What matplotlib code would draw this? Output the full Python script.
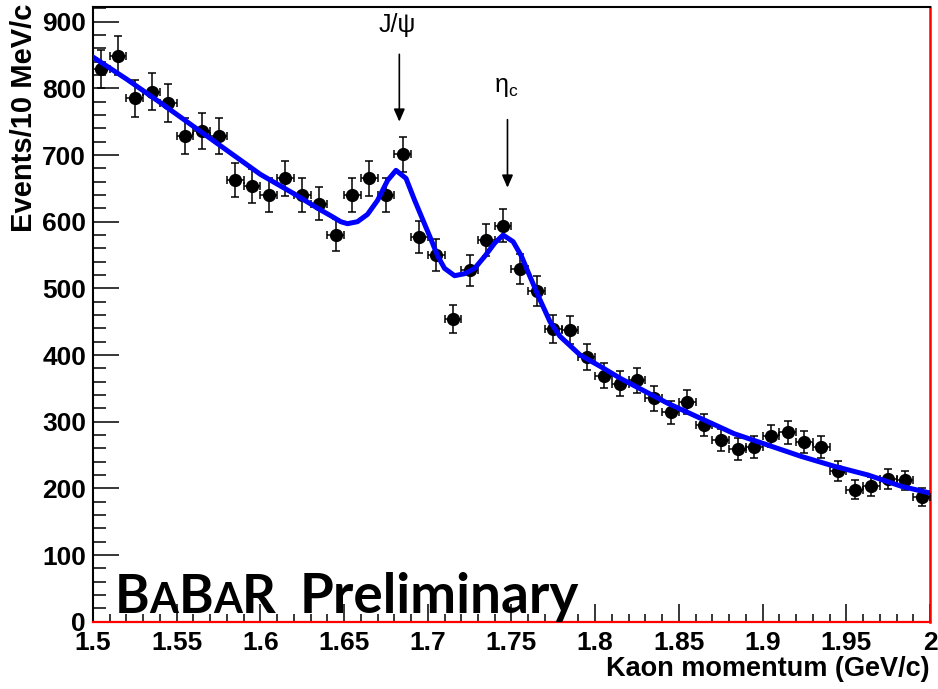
import matplotlib
matplotlib.use("Agg")
import matplotlib.pyplot as plt
from matplotlib.offsetbox import TextArea, HPacker, AnchoredOffsetbox
from matplotlib.ticker import MultipleLocator, FuncFormatter

# --- histogram: 10 MeV bins, kaon momentum (GeV/c)
bin_centers = [
    1.505, 1.515, 1.525, 1.535, 1.545, 1.555, 1.565, 1.575, 1.585, 1.595,
    1.605, 1.615, 1.625, 1.635, 1.645, 1.655, 1.665, 1.675, 1.685, 1.695,
    1.705, 1.715, 1.725, 1.735, 1.745, 1.755, 1.765, 1.775, 1.785, 1.795,
    1.805, 1.815, 1.825, 1.835, 1.845, 1.855, 1.865, 1.875, 1.885, 1.895,
    1.905, 1.915, 1.925, 1.935, 1.945, 1.955, 1.965, 1.975, 1.985, 1.995,
]
counts = [
    829, 849, 785, 795, 778, 729, 736, 729, 662, 653,
    640, 665, 640, 627, 580, 640, 665, 640, 701, 577,
    550, 454, 527, 572, 594, 529, 496, 439, 438, 397,
    369, 357, 362, 335, 314, 330, 295, 272, 259, 262,
    279, 284, 269, 262, 226, 198, 203, 214, 212, 187,
]
count_err = [
    28.8, 29.1, 28.0, 28.2, 27.9, 27.0, 27.1, 27.0, 25.7, 25.6,
    25.3, 25.8, 25.3, 25.0, 24.1, 25.3, 25.8, 25.3, 26.5, 24.0,
    23.5, 21.3, 23.0, 23.9, 24.4, 23.0, 22.3, 21.0, 20.9, 19.9,
    19.2, 18.9, 19.0, 18.3, 17.7, 18.2, 17.2, 16.5, 16.1, 16.2,
    16.7, 16.9, 16.4, 16.2, 15.0, 14.1, 14.2, 14.6, 14.6, 13.7,
]
bin_half_width = 0.005

# --- fit curve
fit_x = [
    1.500, 1.520, 1.540, 1.560, 1.580, 1.600, 1.620, 1.635, 1.642, 1.648,
    1.652, 1.658, 1.664, 1.670, 1.676, 1.681, 1.687, 1.692, 1.697, 1.702,
    1.706, 1.710, 1.716, 1.722, 1.728, 1.734, 1.740, 1.745, 1.751, 1.756,
    1.761, 1.767, 1.773, 1.779, 1.791, 1.803, 1.815, 1.843, 1.883, 1.923,
    1.943, 1.963, 1.983, 2.000,
]
fit_y = [
    847, 814, 779, 743, 707, 671, 642, 619, 609, 600,
    597, 600, 611, 632, 662, 677, 665, 633, 603, 573,
    548, 530, 519, 522, 530, 548, 568, 580, 570, 548,
    518, 483, 450, 428, 400, 383, 365, 328, 282, 248,
    233, 220, 203, 193,
]

peaks = [("J/\u03c8", 1.683), ("\u03b7$_{\\mathrm{c}}$", 1.7476)]

plt.rcParams["font.family"] = ["Liberation Sans", "DejaVu Sans"]
plt.rcParams["mathtext.fontset"] = "custom"
plt.rcParams["mathtext.rm"] = "Liberation Sans"

fig = plt.figure(figsize=(9.38, 6.89), dpi=100)
ax = fig.add_axes([0.0991, 0.0977, 0.8924, 0.8921])

ax.errorbar(bin_centers, counts, yerr=count_err, xerr=bin_half_width,
            fmt="o", color="black", ms=8.5, ecolor="black", elinewidth=1.1,
            capsize=2.6, capthick=1.1, zorder=3)
ax.plot(fit_x, fit_y, color="#0000ff", lw=3.6, zorder=4)

ax.set_xlim(1.5, 2.0)
ax.set_ylim(0, 922)

# ROOT-like frame
for side in ("left", "top"):
    ax.spines[side].set_color("black")
    ax.spines[side].set_linewidth(1.5)
ax.spines["bottom"].set_color("red")
ax.spines["bottom"].set_linewidth(1.6)
ax.spines["right"].set_color("red")
ax.spines["right"].set_linewidth(1.8)

ax.xaxis.set_major_locator(MultipleLocator(0.05))
ax.xaxis.set_minor_locator(MultipleLocator(0.01))
ax.yaxis.set_major_locator(MultipleLocator(100))
ax.yaxis.set_minor_locator(MultipleLocator(20))
ax.xaxis.set_major_formatter(FuncFormatter(lambda v, p: f"{v:g}"))
ax.yaxis.set_major_formatter(FuncFormatter(lambda v, p: f"{v:g}"))
ax.tick_params(which="both", direction="in", top=False, right=False,
               width=1.1, color="black")
ax.tick_params(axis="y", which="major", length=18.5, pad=5)
ax.tick_params(axis="y", which="minor", length=9.1)
ax.tick_params(axis="x", which="major", length=12.7, pad=6.5)
ax.tick_params(axis="x", which="minor", length=6)
for lab in ax.get_xticklabels() + ax.get_yticklabels():
    lab.set_fontsize(19)
    lab.set_fontweight("bold")

ax.set_xlabel("Kaon momentum (GeV/c)", fontsize=19.5, fontweight="bold", loc="right")
ax.xaxis.set_label_coords(1.0, -0.056)
ax.set_ylabel("Events/10 MeV/c", fontsize=21, fontweight="bold", loc="top")
ax.yaxis.set_label_coords(-0.066, 1.006)

# peak markers
arrow_style = dict(arrowstyle="-|>,head_length=0.5,head_width=0.22",
                   color="black", lw=1.2, mutation_scale=15,
                   shrinkA=0, shrinkB=0)
ax.annotate("", xy=(1.683, 750), xytext=(1.683, 851), arrowprops=arrow_style)
ax.annotate("", xy=(1.7476, 651), xytext=(1.7476, 753), arrowprops=arrow_style)
ax.text(peaks[0][1] - 0.001, 885, peaks[0][0], fontsize=18, ha="center", va="baseline")
ax.text(peaks[1][1] - 0.001, 795, peaks[1][0], fontsize=18, ha="center", va="baseline")

# BaBar logo text with small-caps A's
big = dict(fontsize=38, fontweight="bold", family="Lato")
small = dict(fontsize=30, fontweight="bold", family="Lato")
logo = HPacker(children=[TextArea(s, textprops=p) for s, p in
                         [("B", big), ("A", small), ("B", big), ("A", small), ("R", big)]],
               align="baseline", pad=0, sep=0)
prelim = TextArea("Preliminary", textprops=dict(big, fontsize=39.5))
banner = HPacker(children=[logo, prelim], align="baseline", pad=0, sep=17)
ax.add_artist(AnchoredOffsetbox(loc="lower left", child=banner, pad=0, borderpad=0,
                                frameon=False, bbox_to_anchor=(0.026, 0.0),
                                bbox_transform=ax.transAxes))

fig.savefig("out.png", dpi=100, facecolor="white")
